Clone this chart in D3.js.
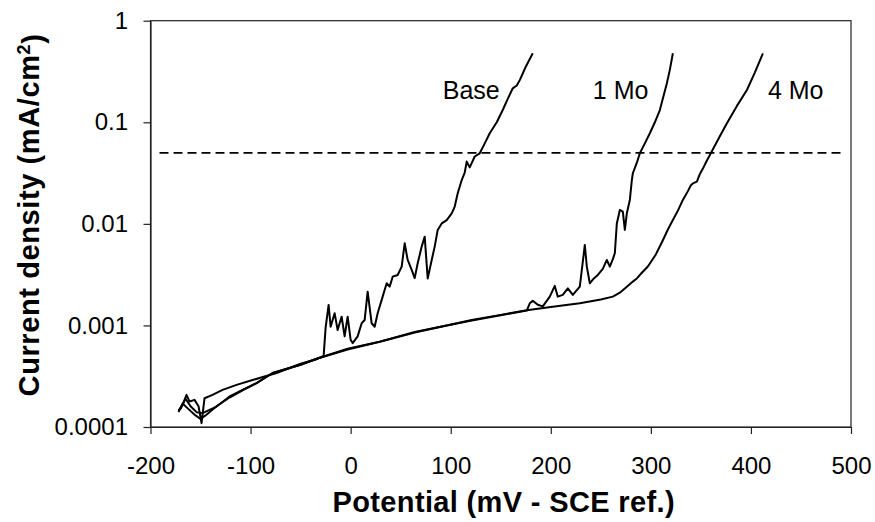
<!DOCTYPE html>
<html>
<head>
<meta charset="utf-8">
<script src="https://cdn.jsdelivr.net/npm/d3@7/dist/d3.min.js"></script>
<style>
  html, body { margin: 0; padding: 0; background: #fff; }
  svg { display: block; }
  text { font-family: "Liberation Sans", Arial, sans-serif; fill: #000; }
</style>
</head>
<body>
<svg id="chart" width="875" height="522"></svg>
<script>
// ---------- data ----------
const xTicks = [-200, -100, 0, 100, 200, 300, 400, 500];
const yTicks = [0.0001, 0.001, 0.01, 0.1, 1];
const yTickLabels = ["0.0001", "0.001", "0.01", "0.1", "1"];
const seriesNames = ["Base", "1 Mo", "4 Mo"];

const baseCurve = [
  [-172, 0.000145], [-168, 0.000165], [-164, 0.000207], [-161, 0.000178], [-156, 0.000185],
  [-152, 0.00016], [-149, 0.000109], [-146, 0.000192], [-138, 0.000207], [-128, 0.000232],
  [-114, 0.00026], [-98, 0.00029], [-74, 0.00034], [-50, 0.00042], [-34, 0.000465],
  [-27, 0.0005], [-25, 0.00095], [-22, 0.00159], [-20, 0.00097], [-16, 0.00132],
  [-13, 0.0009], [-9, 0.00122], [-6, 0.00078], [-3, 0.00122], [0, 0.00072],
  [2, 0.00067], [7, 0.00078], [11, 0.00105], [14, 0.00113], [17, 0.00215],
  [21, 0.00105], [24, 0.00097], [27, 0.00132], [32, 0.00192], [36, 0.0026],
  [39, 0.00241], [42, 0.00302], [47, 0.00314], [51, 0.00379], [54, 0.00644],
  [57, 0.00441], [61, 0.00352], [64, 0.00292], [67, 0.00409], [71, 0.00597],
  [74, 0.00748], [77, 0.0029], [81, 0.00441], [84, 0.00597], [87, 0.00871],
  [91, 0.0101], [96, 0.0109], [101, 0.0127], [104, 0.0148], [107, 0.02],
  [111, 0.027], [114, 0.032], [116, 0.041], [119, 0.036], [124, 0.046],
  [129, 0.0495], [134, 0.062], [139, 0.078], [146, 0.1], [152, 0.132],
  [157, 0.17], [162, 0.216], [166, 0.23], [169, 0.26], [175, 0.352], [182, 0.478]
];

const mo1Curve = [
  [-170, 0.00015], [-165, 0.00019], [-160, 0.00016], [-154, 0.00014], [-148, 0.000137],
  [-134, 0.000159], [-121, 0.0002], [-108, 0.000232], [-94, 0.00027], [-78, 0.00034],
  [-50, 0.00041], [-34, 0.00047], [-3, 0.00059], [29, 0.00069], [64, 0.00085],
  [96, 0.001], [121, 0.00112], [150, 0.00126], [176, 0.0014], [179, 0.00165],
  [182, 0.00175], [187, 0.0016], [192, 0.00154], [199, 0.00192], [204, 0.00245],
  [207, 0.00192], [212, 0.002], [217, 0.00232], [222, 0.002], [229, 0.00241],
  [234, 0.0062], [236, 0.00379], [239, 0.0026], [243, 0.0029], [247, 0.00314],
  [252, 0.0036], [256, 0.00441], [259, 0.00379], [262, 0.0045], [264, 0.00514],
  [266, 0.0101], [269, 0.0137], [272, 0.0132], [274, 0.0087], [276, 0.0127],
  [279, 0.0172], [281, 0.027], [282, 0.0315], [286, 0.04], [289, 0.0495],
  [294, 0.062], [299, 0.078], [304, 0.1], [309, 0.132], [316, 0.242],
  [319, 0.33], [322, 0.478]
];

const mo4Curve = [
  [-172, 0.00014], [-168, 0.00017], [-162, 0.00015], [-155, 0.00013], [-150, 0.00012],
  [-145, 0.00013], [-134, 0.00016], [-121, 0.000195], [-108, 0.00023], [-94, 0.00027],
  [-78, 0.00034], [-50, 0.00041], [-34, 0.00047], [-3, 0.00058], [29, 0.00069],
  [64, 0.00086], [96, 0.001], [121, 0.00113], [150, 0.00127], [176, 0.00141],
  [200, 0.00152], [229, 0.00165], [250, 0.0018], [262, 0.00192], [269, 0.0021],
  [276, 0.0024], [282, 0.0027], [286, 0.0029], [291, 0.0033], [297, 0.0038],
  [305, 0.005], [312, 0.0069], [317, 0.0088], [322, 0.0109], [327, 0.0135],
  [332, 0.0172], [337, 0.021], [340, 0.024], [342, 0.025], [346, 0.026],
  [349, 0.031], [352, 0.035], [356, 0.042], [359, 0.0477], [368, 0.07],
  [376, 0.098], [386, 0.145], [396, 0.208], [404, 0.31], [412, 0.478]
];

const thresholdValue = 0.05;
const thresholdRange = [-191, 494];

// ---------- layout ----------
const svg = d3.select("#chart");
const x = d3.scaleLinear().domain([-200, 500]).range([150.5, 851]);
const y = d3.scaleLog().domain([0.0001, 1]).range([427, 20.7]);

// plot frame (top & right)
svg.append("rect")
  .attr("x", x.range()[0]).attr("y", y.range()[1])
  .attr("width", x.range()[1] - x.range()[0])
  .attr("height", y.range()[0] - y.range()[1])
  .attr("fill", "none").attr("stroke", "#222").attr("stroke-width", 1.2);

// axes
const xAxis = svg.append("g")
  .attr("transform", `translate(0,${y.range()[0]})`)
  .call(d3.axisBottom(x).tickValues(xTicks).tickFormat(d3.format("d"))
        .tickSize(7).tickPadding(23).tickSizeOuter(0));
const yAxis = svg.append("g")
  .attr("transform", `translate(${x.range()[0]},0)`)
  .call(d3.axisLeft(y).tickValues(yTicks).tickFormat((d, i) => yTickLabels[i])
        .tickSize(7).tickPadding(15.5).tickSizeOuter(0));
[xAxis, yAxis].forEach(g => {
  g.selectAll(".domain").attr("stroke", "#222").attr("stroke-width", 1.2);
  g.selectAll(".tick line").attr("stroke", "#222").attr("stroke-width", 1.2);
  g.selectAll(".tick text")
    .style("font-family", '"Liberation Sans", Arial, sans-serif')
    .style("font-size", "24px").attr("fill", "#000");
});
xAxis.selectAll(".tick text").text(d => d < 0 ? "-" + Math.abs(d) : d);

// threshold dashed line
svg.append("line")
  .attr("x1", x(thresholdRange[0])).attr("x2", x(thresholdRange[1]))
  .attr("y1", y(thresholdValue)).attr("y2", y(thresholdValue))
  .attr("stroke", "#000").attr("stroke-width", 1.8)
  .attr("stroke-dasharray", "9,5");

// curves
const line = d3.line().x(d => x(d[0])).y(d => y(d[1]));
[baseCurve, mo1Curve, mo4Curve].forEach(data => {
  svg.append("path").datum(data)
    .attr("d", line)
    .attr("fill", "none").attr("stroke", "#000")
    .attr("stroke-width", 2).attr("stroke-linejoin", "round");
});

// curve labels
const labelAt = [[92, 0.17], [242, 0.17], [417, 0.17]];
seriesNames.forEach((name, i) => {
  svg.append("text")
    .attr("x", x(labelAt[i][0]))
    .attr("y", y(labelAt[i][1]))
    .style("font-size", "25px")
    .text(name);
});

// axis titles
svg.append("text")
  .attr("x", (x.range()[0] + x.range()[1]) / 2 + 3)
  .attr("y", 512)
  .attr("text-anchor", "middle")
  .style("font-size", "29px").style("font-weight", "bold")
  .style("letter-spacing", "0.35px")
  .text("Potential (mV - SCE ref.)");

const yTitle = svg.append("text")
  .attr("transform", "translate(38.5,215) rotate(-90)")
  .attr("text-anchor", "middle")
  .style("font-size", "29px").style("font-weight", "bold")
  .style("letter-spacing", "0.6px");
yTitle.append("tspan").text("Current density (mA/cm");
yTitle.append("tspan").attr("dy", "-0.45em").style("font-size", "18px").text("2");
yTitle.append("tspan").attr("dy", "0.45em").text(")");
</script>
</body>
</html>
